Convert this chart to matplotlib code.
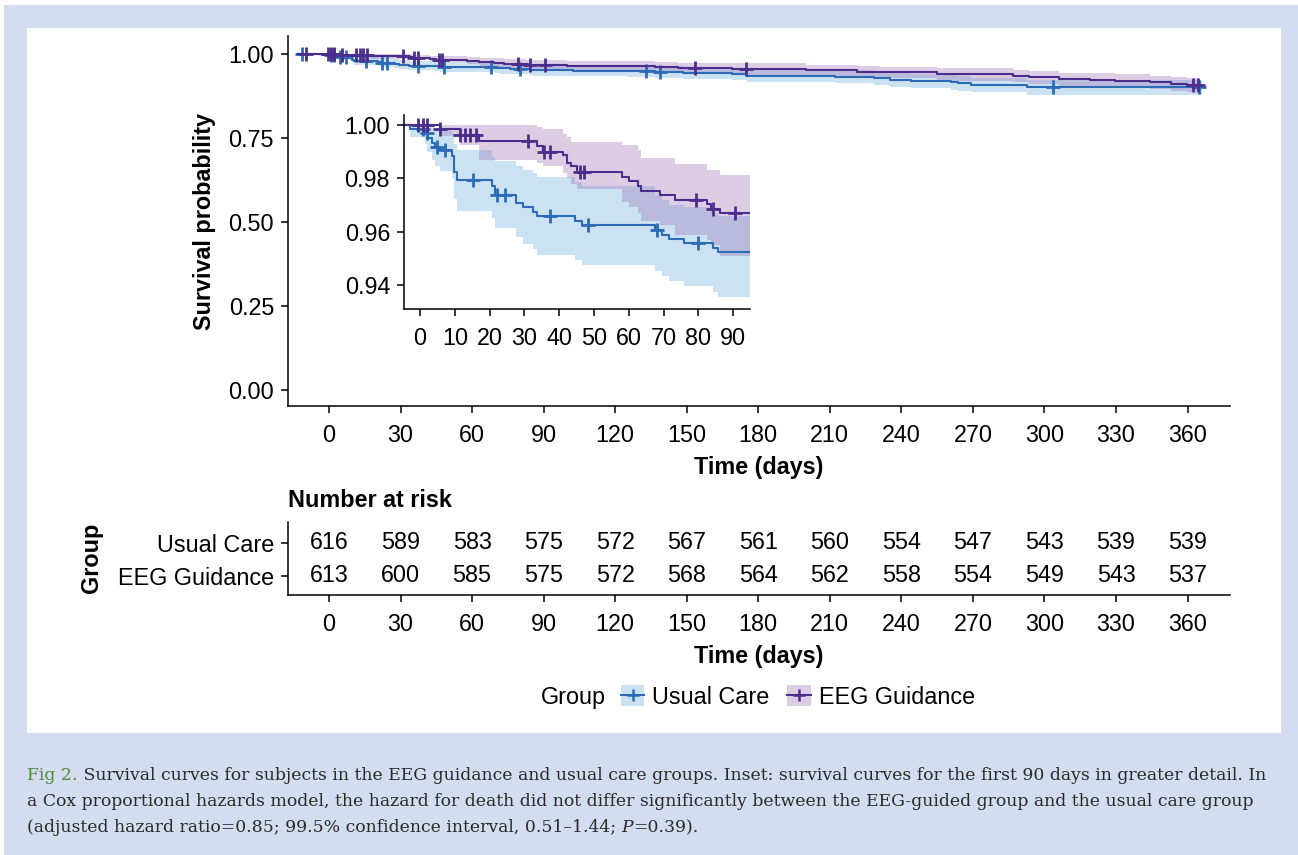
import numpy as np
import matplotlib.pyplot as plt
from matplotlib.patches import Rectangle, Patch
from matplotlib.lines import Line2D

# Kaplan-Meier curves (time in days)
uc_t = [-13, -3, 1.4, 2.1, 3.4, 4.3, 5.7, 9.1, 9.8, 10.5, 20.6, 21.6, 27.6, 29.5, 32.6, 33.5,
        44.5, 46.5, 67.5, 69.4, 71.4, 75.7, 84.3, 85.7, 102.4, 124.8, 136.7, 148.5, 157, 168.8,
        175.3, 212.3, 228.7, 235.4, 244, 260.8, 263.6, 269.2, 292.5, 366]
uc_s = [1.0, .9985, .9970, .9952, .9932, .9917, .9904, .9884, .9825, .9792, .9772, .9739, .9706, .9691, .9673, .9660,
        .9640, .9624, .9607, .9587, .9574, .9557, .9541, .9525, .9510, .9490, .9464, .9445, .9425, .9410,
        .9355, .9325, .9280, .9226, .9196, .9157, .9127, .9077, .9010, .9010]
uc_lo = [1.0, .9955, .9927, .9897, .9868, .9846, .9827, .9800, .9722, .9676, .9650, .9614, .9580, .9554, .9535, .9515,
         .9495, .9475, .9455, .9436, .9416, .9399, .9377, .9357, .9340, .9318, .9290, .9268, .9246, .9230,
         .9165, .9130, .9080, .9020, .8988, .8945, .8912, .8858, .8785, .8785]
uc_hi = [1.0, 1.0, 1.0, 1.0, .9997, .9988, .9981, .9968, .9928, .9904, .9880, .9864, .9844, .9831, .9818, .9805,
         .9785, .9772, .9739, .9719, .9700, .9693, .9672, .9660, .9680, .9662, .9638, .9622, .9604, .9590,
         .9545, .9520, .9480, .9432, .9404, .9369, .9342, .9296, .9235, .9235]
uc_cens = [-11.5, 1, 2, 4.8, 7.2, 15.3, 22.2, 24.4, 37.4, 48.4, 68, 80, 133, 138.8, 303.6, 365]

eeg_t = [-13, 5.6, 11.5, 17, 33.5, 35.4, 41, 42.3, 43.5, 45, 58, 60, 62.7, 63.4, 69, 73.3, 82.4, 83.5, 86.2,
         99.7, 136.7, 146.5, 168.8, 200, 221.6, 231, 254.8, 259.6, 286.8, 293.7, 306.3, 319.2, 329.6, 344.3,
         353.2, 359.9, 365]
eeg_s = [1.0, .9985, .9963, .9938, .9920, .9897, .9887, .9858, .9845, .9822, .9805, .9788, .9772, .9752, .9738, .9719, .9703, .9686, .9670,
         .9650, .9615, .9585, .9554, .9514, .9474, .9454, .9415, .9395, .9355, .9315, .9256, .9226, .9196, .9157,
         .9117, .9077, .9077]
eeg_lo = [1.0, .9956, .9924, .9868, .9858, .9844, .9820, .9800, .9780, .9759, .9713, .9693, .9670, .9640, .9627, .9587, .9570, .9550, .9508,
          .9500, .9460, .9425, .9390, .9345, .9300, .9278, .9235, .9212, .9168, .9125, .9060, .9027, .8995, .8953,
          .8910, .8867, .8867]
eeg_hi = [1.0, 1.0, 1.0, 1.0, .9992, .9983, .9966, .9953, .9937, .9937, .9924, .9924, .9904, .9877, .9877, .9854, .9831, .9831, .9811,
          .9800, .9770, .9745, .9722, .9683, .9648, .9630, .9595, .9578, .9542, .9505, .9452, .9425, .9397, .9361,
          .9324, .9287, .9287]
eeg_cens = [-9.5, -0.5, 1, 2.1, 5.6, 11.5, 12.9, 14.4, 16.1, 31.1, 35.6, 37.2, 46, 47.2, 79.3, 84.1, 90.5,
            153.5, 175, 362.4, 364.5]

# number at risk
risk_times = [0, 30, 60, 90, 120, 150, 180, 210, 240, 270, 300, 330, 360]
uc_risk = [616, 589, 583, 575, 572, 567, 561, 560, 554, 547, 543, 539, 539]
eeg_risk = [613, 600, 585, 575, 572, 568, 564, 562, 558, 554, 549, 543, 537]

groups = ['Usual Care', 'EEG Guidance']
line_cols = ['#2E6BB5', '#4B2D8C']
fill_cols = ['#6AACDF', '#9C70B2']
fill_alpha = 0.35

plt.rcParams['font.family'] = ['Liberation Sans', 'DejaVu Sans']
FS = 16.8
W, H = 1298, 855
fig = plt.figure(figsize=(W / 100, H / 100), dpi=100)


def fpos(x0, y0, x1, y1):
    # pixel box -> figure fraction
    return [x0 / W, 1 - y1 / H, (x1 - x0) / W, (y1 - y0) / H]


# background, panel
bg = fig.add_axes([0, 0, 1, 1], zorder=-10)
bg.set_xlim(0, W)
bg.set_ylim(H, 0)
bg.axis('off')
bg.add_patch(Rectangle((4, 5), W, H, color='#D4DCEF', lw=0))
bg.add_patch(Rectangle((27, 28), 1254, 705, color='white', lw=0))

curves = [(uc_t, uc_s, uc_lo, uc_hi, uc_cens), (eeg_t, eeg_s, eeg_lo, eeg_hi, eeg_cens)]


def draw_km(ax, ms):
    for (t, s, lo, hi, cens), lc, fc in zip(curves, line_cols, fill_cols):
        ax.fill_between(t, lo, hi, step='post', color=fc, alpha=fill_alpha, lw=0)
    for (t, s, lo, hi, cens), lc, fc in zip(curves, line_cols, fill_cols):
        ax.step(t, s, where='post', color=lc, lw=1.5)
        idx = np.searchsorted(t, cens, side='right') - 1
        ax.plot(cens, np.array(s)[idx], ls='none', marker='+', color=lc, ms=ms, mew=2.0)


def style(ax):
    for sp in ['top', 'right']:
        ax.spines[sp].set_visible(False)
    for sp in ['left', 'bottom']:
        ax.spines[sp].set_linewidth(1.1)
    ax.tick_params(direction='out', length=5, width=1.1, labelsize=FS, pad=5)
    ax.tick_params(axis='x', pad=8)


# main plot
ax = fig.add_axes(fpos(288, 36, 1230, 406))
draw_km(ax, 10)
ax.set_xlim(-17.2, 377.8)
ax.set_ylim(-0.048, 1.054)
ax.set_xticks(risk_times)
ax.set_yticks([0, 0.25, 0.5, 0.75, 1.0])
ax.set_yticklabels(['0.00', '0.25', '0.50', '0.75', '1.00'])
style(ax)

# inset
axi = fig.add_axes(fpos(404, 115, 750, 309))
axi.set_facecolor('white')
draw_km(axi, 10)
axi.set_xlim(-4.6, 94.8)
axi.set_ylim(0.9312, 1.0036)
axi.set_xticks(range(0, 91, 10))
axi.set_yticks([0.94, 0.96, 0.98, 1.00])
axi.set_yticklabels(['0.94', '0.96', '0.98', '1.00'])
style(axi)

# risk table
axr = fig.add_axes(fpos(288, 522, 1230, 595))
axr.set_xlim(-17.2, 377.8)
axr.set_ylim(0.42, 2.62)
axr.set_xticks(risk_times)
axr.set_yticks([2, 1])
axr.set_yticklabels(groups)
style(axr)
for row, vals in zip([2, 1], [uc_risk, eeg_risk]):
    for x, v in zip(risk_times, vals):
        axr.text(x, row, str(v), ha='center', va='center', fontsize=FS)

# axis titles
bold = dict(fontsize=FS, fontweight='bold', ha='center', va='center')
bg.text(205, 221, 'Survival probability', rotation=90, **bold)
bg.text(322, 212, 'Survival probability', rotation=90, **bold)
bg.text(759, 467, 'Time (days)', **bold)
bg.text(577, 372, 'Time (days)', **bold)
bg.text(759, 656, 'Time (days)', **bold)
bg.text(92, 558, 'Group', rotation=90, **bold)
bg.text(288, 500, 'Number at risk', fontsize=FS, fontweight='bold', ha='left', va='center')

# legend
bg.text(573, 697, 'Group', fontsize=FS, ha='center', va='center')
handles = [(Patch(facecolor=fc, alpha=fill_alpha, lw=0),
            Line2D([], [], color=lc, marker='+', ms=9, mew=1.8, lw=1.5))
           for lc, fc in zip(line_cols, fill_cols)]
fig.legend(handles, groups, loc='center left', bbox_to_anchor=(621 / W, 1 - 697 / H), ncol=2,
           frameon=False, fontsize=FS, handlelength=1.0, handleheight=1.0, handletextpad=0.35,
           columnspacing=0.75, borderpad=0, borderaxespad=0)

# caption
cap_font = dict(family='DejaVu Serif', fontsize=12.45, color='#2A2A2A')


def chain(pieces, x, y):
    prev = None
    for txt, kw in pieces:
        opts = dict(cap_font)
        opts.update(kw)
        if prev is None:
            prev = bg.text(x, y, txt, ha='left', va='baseline', **opts)
        else:
            prev = bg.annotate(txt, xy=(1, 0), xycoords=prev, ha='left', va='bottom', **opts)


chain([('Fig 2.', dict(color='#4E8A3C')),
       (' Survival curves for subjects in the EEG guidance and usual care groups. Inset: survival curves '
        'for the first 90 days in greater detail. In', {})], 27, 780)
chain([('a Cox proportional hazards model, the hazard for death did not differ significantly between '
        'the EEG-guided group and the usual care group', {})], 27, 806)
chain([('(adjusted hazard ratio=0.85; 99.5% confidence interval, 0.51\u20131.44; ', {}),
       ('P', dict(style='italic')),
       ('=0.39).', {})], 27, 832)

fig.savefig('out.png', dpi=100, facecolor='white')
